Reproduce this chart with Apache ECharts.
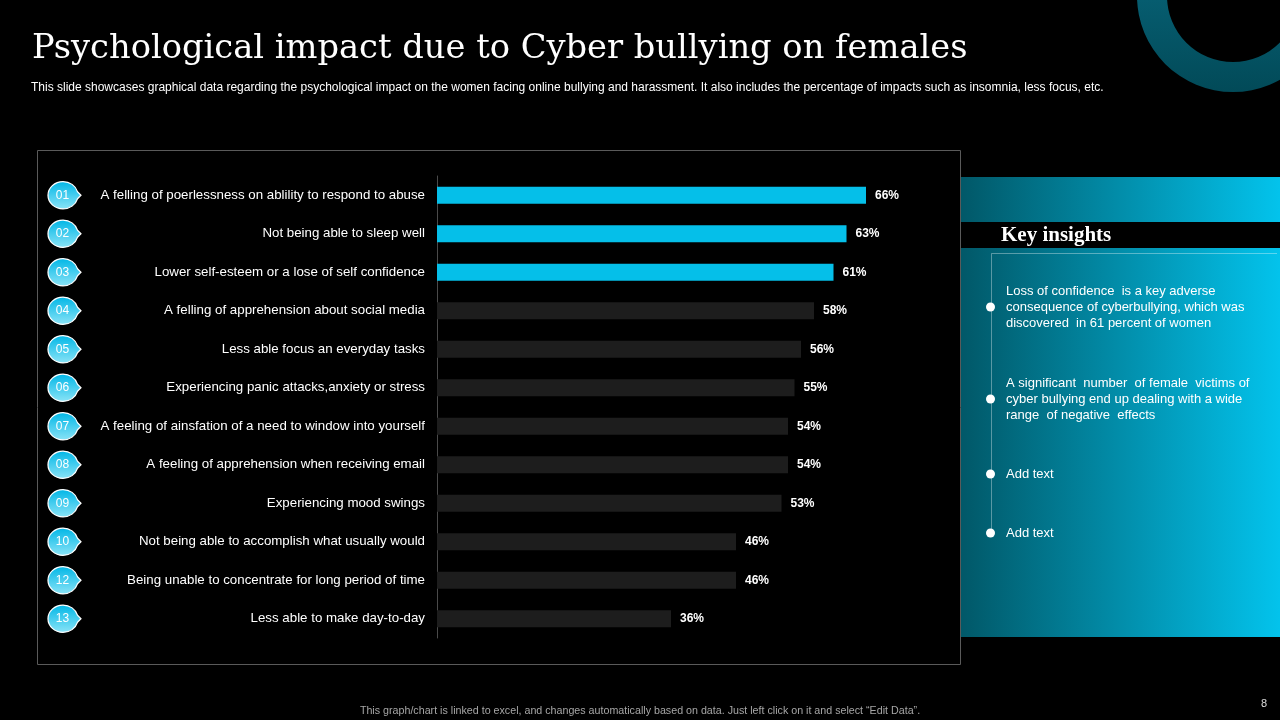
<!DOCTYPE html>
<html lang="en" style="height: 100%">
<head>
    <meta charset="utf-8">
</head>
<body style="height: 100%; margin: 0; background: #000">
<div id="container" style="width: 1280px; height: 720px"></div>
<script type="text/javascript" src="https://fastly.jsdelivr.net/npm/echarts@6.0.0/dist/echarts.min.js"></script>
<script type="text/javascript">

    const numbers = ['01', '02', '03', '04', '05', '06', '07', '08', '09', '10', '12', '13'];
    const impacts = [
        'A felling of poerlessness on ablility to respond to abuse',
        'Not being able to sleep well',
        'Lower self-esteem or a lose of self confidence',
        'A felling of apprehension about social media',
        'Less able focus an everyday tasks',
        'Experiencing panic attacks,anxiety or stress',
        'A feeling of ainsfation of a need to window into yourself',
        'A feeling of apprehension when receiving email',
        'Experiencing mood swings',
        'Not being able to accomplish what usually would',
        'Being unable to concentrate for long period of time',
        'Less able to make day-to-day'
    ];
    const percents = [66, 63, 61, 58, 56, 55, 54, 54, 53, 46, 46, 36];
    const highlighted = 3; // first three bars are cyan

    const insights = [
        'Loss of confidence  is a key adverse\nconsequence of cyberbullying, which was\ndiscovered  in 61 percent of women',
        'A significant  number  of female  victims of\ncyber bullying end up dealing with a wide\nrange  of negative  effects',
        'Add text',
        'Add text'
    ];
    const insightY = [307, 399, 474, 533];

    const cyan = '#05bfe9';
    const darkBar = '#1d1d1d';

    var dom = document.getElementById('container');
    var myChart = echarts.init(dom, null, {renderer: 'canvas'});

    // pin-like bubble: circle with a small pointer on the right
    const bubble = 'path://M15,0 A15,15 0 1 0 29.46,19 L33,15 L29.46,11 A15,15 0 0 0 15,0 Z';

    const graphics = [
        {
            type: 'rect', z: -10,
            shape: {x: 37.5, y: 150.5, width: 923, height: 514},
            style: {fill: 'none', stroke: '#5a5a5a', lineWidth: 1}
        },
        {
            type: 'rect', z: -10,
            shape: {x: 961, y: 177, width: 319, height: 460},
            style: {
                fill: new echarts.graphic.LinearGradient(0, 0, 1, 0, [
                    {offset: 0, color: '#015868'},
                    {offset: 1, color: '#03c3ec'}
                ])
            }
        },
        {
            type: 'rect', z: -9,
            shape: {x: 961, y: 222, width: 319, height: 26},
            style: {fill: '#000'}
        },
        {
            type: 'text', left: 1001, top: 225,
            style: {text: 'Key insights', fill: '#fff', font: 'bold 21px "Liberation Serif", serif'}
        },
        {
            type: 'polyline', z: -8,
            shape: {points: [[1277, 253.5], [991.5, 253.5], [991.5, insightY[insightY.length - 1]]]},
            style: {stroke: 'rgba(255,255,255,0.35)', lineWidth: 1, fill: 'none'}
        },
        {
            type: 'ring',
            shape: {cx: 1233, cy: -4, r: 96, r0: 66},
            style: {
                fill: new echarts.graphic.LinearGradient(0, 0, 0, 1, [
                    {offset: 0, color: '#0a7088'},
                    {offset: 1, color: '#024a58'}
                ])
            }
        }
    ];
    insights.forEach((t, i) => {
        graphics.push({
            type: 'circle',
            shape: {cx: 990.5, cy: insightY[i], r: 4.5},
            style: {fill: '#fff'}
        });
        const lines = t.split('\n').length;
        graphics.push({
            type: 'text', left: 1006, top: insightY[i] - lines * 8,
            style: {text: t, fill: '#fff', font: '13px "Liberation Sans", Arial', lineHeight: 16}
        });
    });

    const option = {
        backgroundColor: '#000',
        textStyle: {fontFamily: '"Liberation Sans", Arial, sans-serif'},
        title: [
            {
                text: 'Psychological impact due to Cyber bullying on females',
                left: 27, top: 27,
                textStyle: {color: '#fff', fontFamily: '"DejaVu Serif", serif', fontWeight: 'normal', fontSize: 33.7}
            },
            {
                text: 'This slide showcases graphical data regarding the psychological impact on the women facing online bullying and harassment. It also includes the percentage of impacts such as insomnia, less focus, etc.',
                left: 26, top: 77,
                textStyle: {color: '#fff', fontWeight: 'normal', fontSize: 12}
            },
            {
                text: 'This graph/chart is linked to excel, and changes automatically based on data. Just left click on it and select \u201cEdit Data\u201d.',
                left: 'center', top: 701,
                textStyle: {color: '#a6a6a6', fontWeight: 'normal', fontSize: 10.7}
            },
            {
                text: '8', left: 1256, top: 693,
                textStyle: {color: '#ddd', fontWeight: 'normal', fontSize: 11}
            }
        ],
        graphic: graphics,
        grid: [
            {left: 437, top: 176, width: 520, height: 462},
            {left: 47, top: 176, width: 35, height: 462}
        ],
        xAxis: [
            {type: 'value', gridIndex: 0, min: 0, max: 80, show: false},
            {type: 'value', gridIndex: 1, min: -1, max: 1, show: false}
        ],
        yAxis: [
            {
                type: 'category', gridIndex: 0, data: impacts, inverse: true,
                axisLine: {lineStyle: {color: '#4a4a4a'}},
                axisTick: {show: false},
                axisLabel: {color: '#fff', fontSize: 13.3, margin: 12}
            },
            {
                type: 'category', gridIndex: 1, data: numbers, inverse: true, show: false
            }
        ],
        series: [
            {
                type: 'bar',
                xAxisIndex: 0, yAxisIndex: 0,
                barWidth: 17,
                data: percents.map((v, i) => ({
                    value: v,
                    itemStyle: {color: i < highlighted ? cyan : darkBar}
                })),
                label: {
                    show: true, position: 'right', distance: 9,
                    formatter: '{c}%', color: '#fff', fontWeight: 'bold', fontSize: 12
                }
            },
            {
                type: 'scatter',
                xAxisIndex: 1, yAxisIndex: 1,
                symbol: bubble,
                symbolSize: [33, 30],
                symbolKeepAspect: true,
                data: numbers.map((n, i) => ({value: [0, i], name: n})),
                itemStyle: {
                    opacity: 1,
                    color: new echarts.graphic.LinearGradient(0, 0, 0, 1, [
                        {offset: 0, color: '#00b6e6'},
                        {offset: 1, color: '#8be4f7'}
                    ]),
                    borderColor: '#fff', borderWidth: 1.2
                },
                emphasis: {scale: false},
                label: {
                    show: true, position: 'inside', offset: [-2, 0],
                    formatter: p => p.name, color: '#fff', fontSize: 12
                }
            }
        ]
    };

    myChart.setOption(option);

</script>
</body>
</html>
